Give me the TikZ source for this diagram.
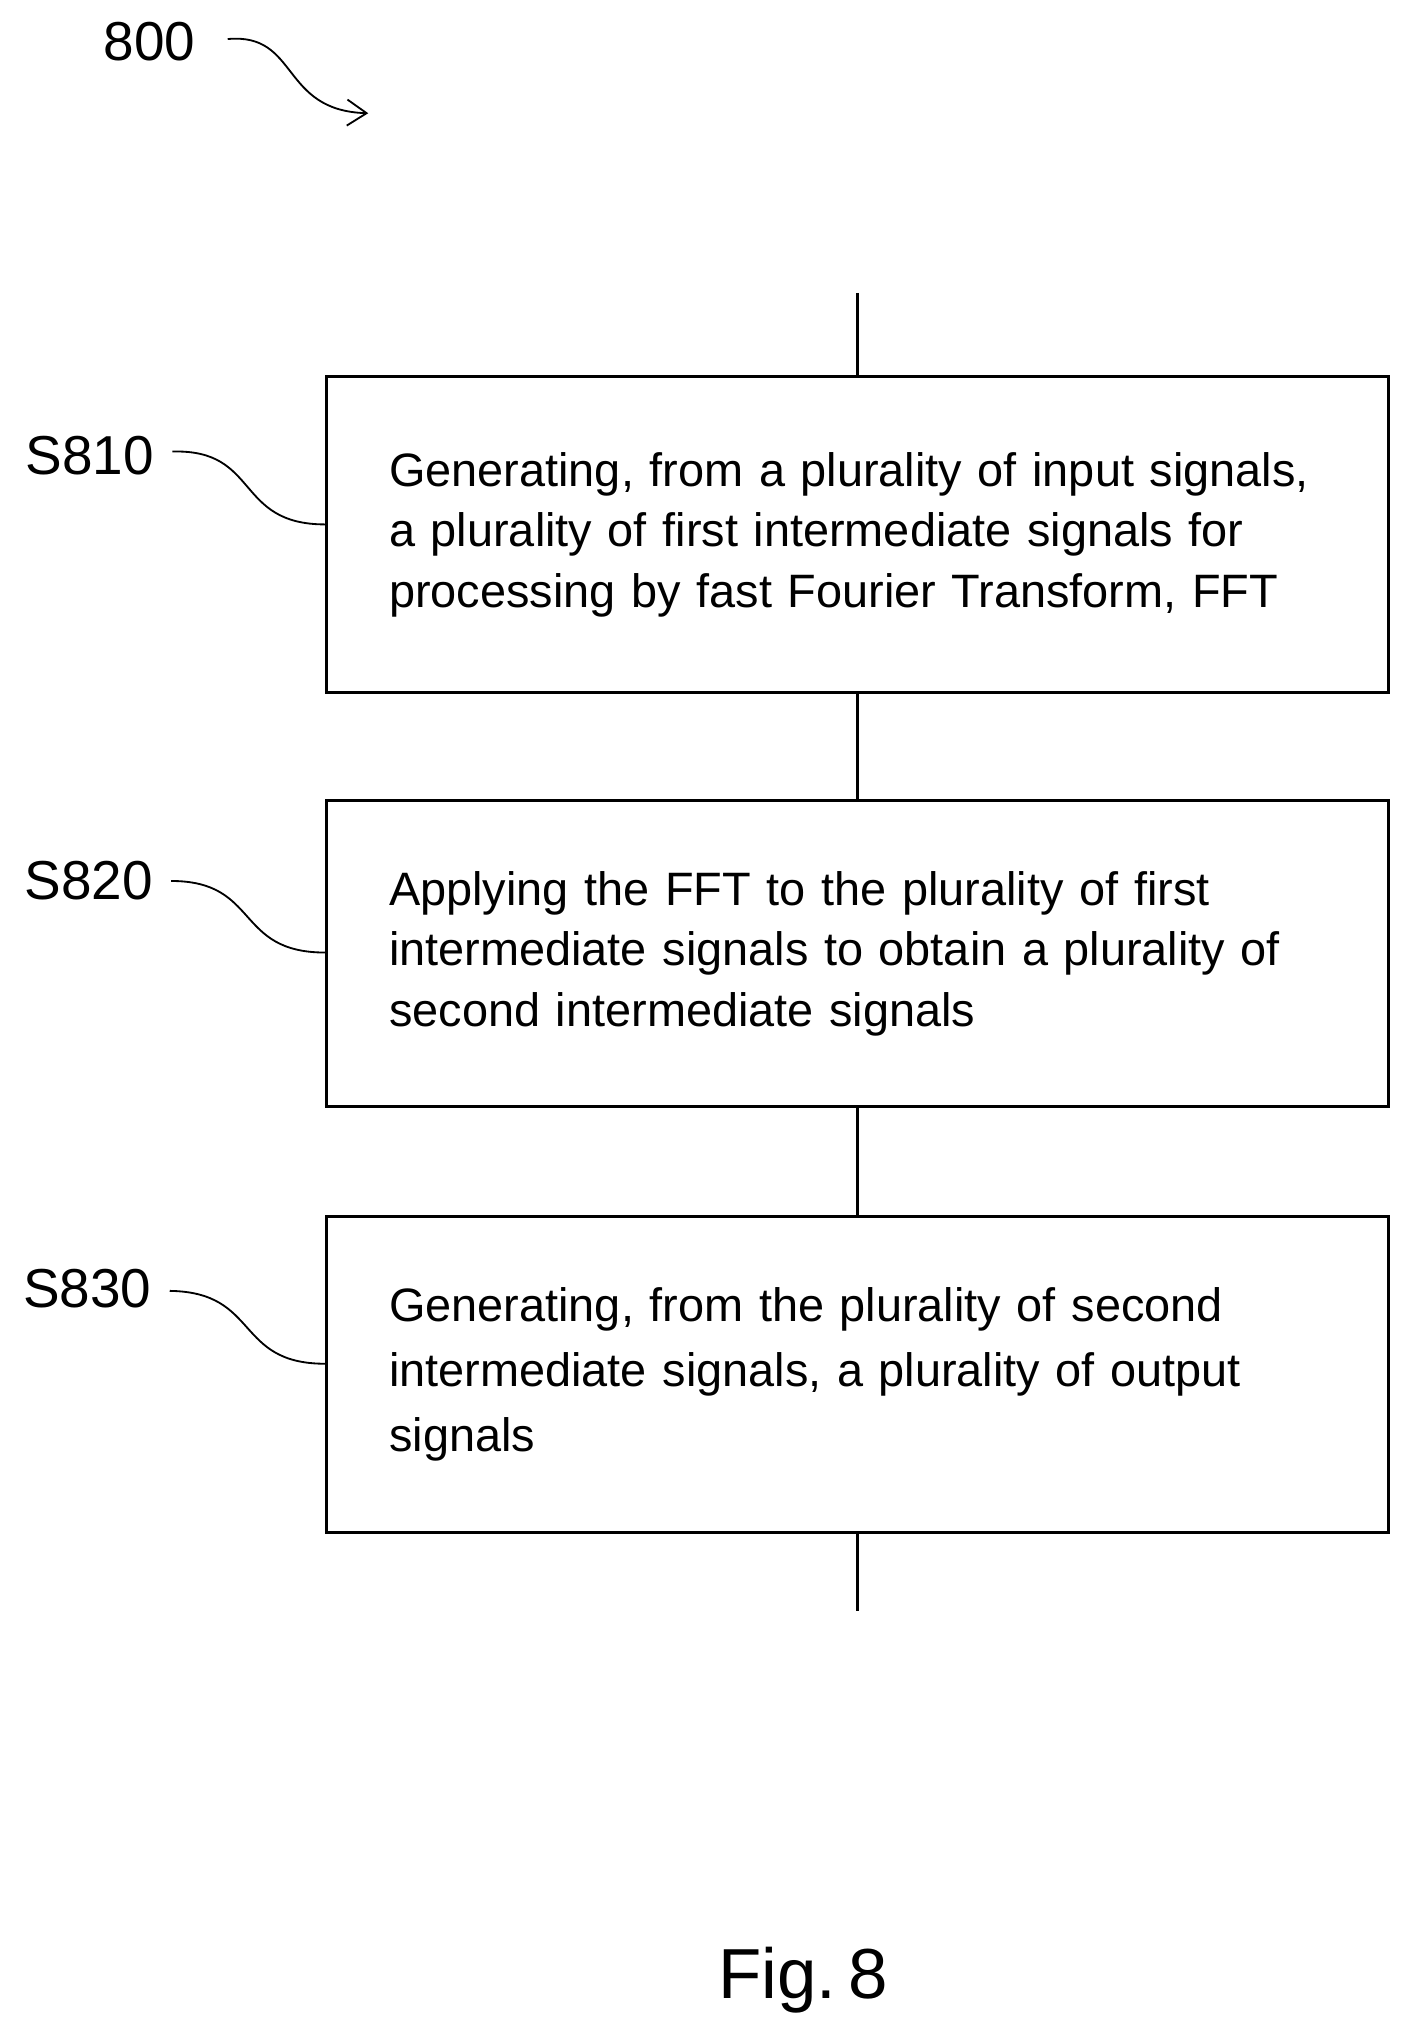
\documentclass[tikz,border=0pt]{standalone}
\usepackage{fontspec}
\setmainfont{Liberation Sans}
\usetikzlibrary{arrows.meta}
\begin{document}
\begin{tikzpicture}[x=0.02cm,y=-0.02cm,
  box/.style={draw,line width=1.3pt,minimum width=16.32cm,minimum height=#1,text width=14.4cm,inner xsep=0.96cm,align=left,font=\fontsize{20.5}{26.5}\selectfont},
  lbl/.style={font=\fontsize{24}{28}\selectfont},
  conn/.style={line width=1.3pt},
  lead/.style={line width=0.8pt}]
\useasboundingbox (0,0) rectangle (1085,1570);
\node[lbl] (n800) at (115,32) {800};
\coordinate (a0) at (175,30);
\coordinate (a1) at (283,87);
\draw[lead,-{Straight Barb[length=3mm,width=4mm]}] (a0) .. controls (230,25) and (215,85) .. (a1);
\coordinate (top) at (659,225);
\coordinate (bot) at (659,1238);
\node[box=4.86cm] (b1) at (659,411) {Generating, from a plurality of input signals,\\a plurality of first intermediate signals for\\processing by fast Fourier Transform, FFT};
\node[box=4.7cm] (b2) at (659,733) {Applying the FFT to the plurality of first\\intermediate signals to obtain a plurality of\\second intermediate signals};
\node[box=4.86cm,font=\fontsize{20.5}{28.5}\selectfont] (b3) at (659,1056) {Generating, from the plurality of second\\intermediate signals, a plurality of output\\signals};
\draw[conn] (top) -- (b1.north);
\draw[conn] (b1.south) -- (b2.north);
\draw[conn] (b2.south) -- (b3.north);
\draw[conn] (b3.south) -- (bot);
\node[lbl] (s1) at (69,350) {S810};
\node[lbl] (s2) at (68,677) {S820};
\node[lbl] (s3) at (67,990) {S830};
\draw[lead] (s1.east)++(8,-3) .. controls (200,345) and (180,403) .. (b1.west|-0,403);
\draw[lead] (s2.east)++(8,0) .. controls (200,677) and (180,732) .. (b2.west|-0,732);
\draw[lead] (s3.east)++(8,2) .. controls (200,993) and (180,1048) .. (b3.west|-0,1048);
\node[font=\fontsize{31}{36}\selectfont] (fig) at (617,1522) {Fig.\,8};
\end{tikzpicture}
\end{document}
